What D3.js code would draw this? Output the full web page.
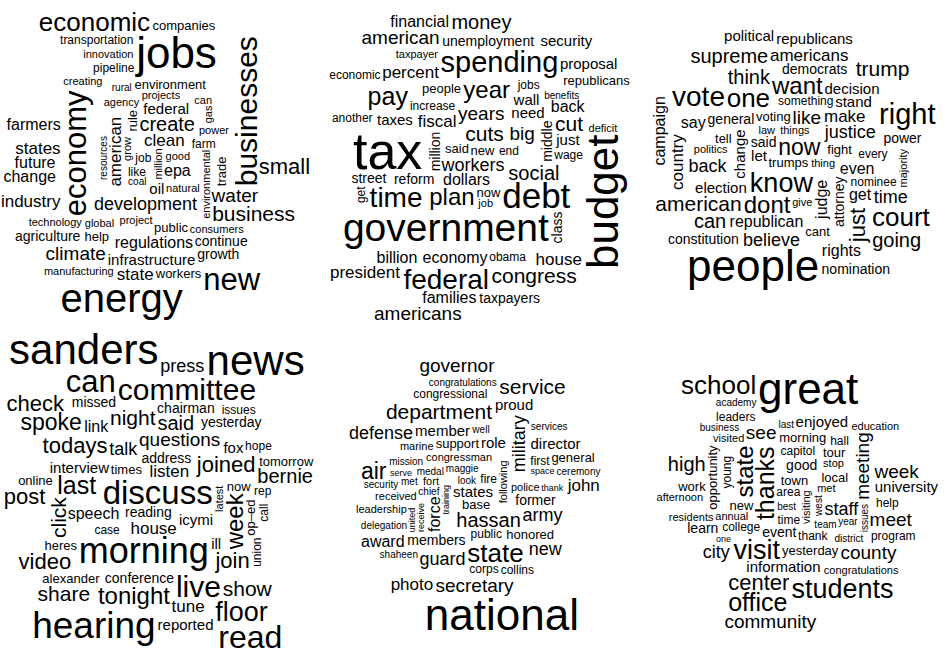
<!DOCTYPE html>
<html>
<head>
<meta charset="utf-8">
<script src="https://cdn.jsdelivr.net/npm/d3@7"></script>
<style>
  html, body { margin: 0; padding: 0; background: #ffffff; }
  svg { display: block; }
</style>
</head>
<body>
<svg id="chart" width="946" height="656"></svg>
<script>
// ---------- DATA (word, relative frequency) ----------
// Panel 1
const words1 = ["million","epa","job","clean","good","like","coal","oil","development","natural","create","grow","american","environmental","farm","federal","resources","project","public","power","rule","projects","economy","regulations","environment","water","businesses","trade","agency","jobs","gas","consumers","global","infrastructure","business","can","rural","continue","help","pipeline","state","growth","creating","workers","climate","technology","innovation","energy","farmers","states","industry","future","new","agriculture","change","manufacturing","small","companies","transportation","economic"];
const counts1 = [11,16,12,17,11,12,10,15,18,11,20,11,17,11,12,15,10,11,13,11,13,11,31,16,13,19,30,13,11,44,11,11,11,15,21,11,10,14,13,12,17,14,11,13,19,11,11,40,16,17,17,16,31,14,16,11,22,13,12,26];
const rotated1 = ["million","grow","american","environmental","resources","rule","economy","businesses","trade","gas"];

// Panel 2
const words2 = ["workers","dollars","new","said","cuts","plan","now","million","years","government","debt","social","end","big","fiscal","year","tax","spending","reform","increase","time","middle","need","people","wall","taxes","economy","wage","obama","just","jobs","federal","budget","percent","pay","congress","job","cut","street","class","back","unemployment","benefits","billion","taxpayer","money","house","another","families","taxpayers","get","american","republicans","economic","president","americans","proposal","deficit","security","financial"];
const counts2 = [18,16,13,13,21,24,13,14,19,39,35,20,12,19,17,24,52,29,14,12,28,14,15,13,15,15,16,12,12,15,12,28,44,17,25,21,11,21,14,14,16,14,10,16,11,20,17,12,16,14,12,19,13,12,17,19,15,11,15,16];
const rotated2 = ["million","middle","class","get","budget"];

// Panel 3
const words3 = ["trumps","know","now","said","thing","things","judge","dont","change","like","voting","republican","let","fight","give","justice","law","something","election","attorney","even","make","want","one","believe","general","tell","people","politics","american","back","cant","get","democrats","just","every","stand","think","decision","americans","can","rights","nominee","supreme","vote","say","republicans","constitution","country","court","time","nomination","power","right","trump","majority","going","political","campaign"];
const counts3 = [13,27,23,14,11,11,16,24,15,19,13,16,15,13,11,18,11,12,15,14,16,17,24,26,18,14,13,44,11,21,18,13,16,14,22,12,15,20,15,17,20,16,12,20,28,16,15,14,17,26,18,14,14,29,21,11,20,15,16];
const rotated3 = ["judge","change","attorney","just","country","majority","campaign"];

// Panel 4
const words4 = ["discuss","reading","listen","address","house","times","questions","morning","icymi","talk","speech","latest","joined","said","night","interview","conference","chairman","last","week","case","todays","now","ill","live","fox","committee","tonight","yesterday","op–ed","link","click","join","missed","rep","spoke","heres","alexander","call","tune","hope","bernie","press","union","can","hearing","issues","online","sanders","video","show","post","share","reported","news","floor","read","check","tomorrow"];
const counts4 = [33,14,17,14,17,13,19,36,15,18,16,11,22,20,21,15,14,14,25,24,12,22,13,15,30,15,30,24,14,13,16,21,22,14,12,23,13,13,12,17,12,20,18,12,31,37,12,13,42,22,21,22,21,15,42,27,32,22,13];
const rotated4 = ["latest","week","op–ed","click","call","union"];

// Panel 5
const words5 = ["states","base","look","maggie","training","fire","following","hassan","force","congressman","public","chief","support","state","fort","members","role","police","member","military","guard","former","department","medal","receive","army","honored","met","well","mission","received","united","marine","space","corps","first","secretary","leadership","congressional","serve","director","thank","new","collins","delegation","proud","shaheen","defense","security","award","congratulations","services","general","national","ceremony","air","photo","governor","john","service"];
const counts5 = [15,13,10,10,9,12,11,20,16,11,12,10,13,26,11,14,15,11,15,18,18,14,21,10,9,18,13,10,10,10,11,9,11,9,12,12,19,11,12,9,15,9,18,12,10,15,10,18,10,16,10,10,13,44,10,23,17,19,17,21];
const rotated5 = ["training","following","force","military","receive","united"];

// Panel 6
const words6 = ["area","thanks","town","best","good","visiting","time","west","met","event","capitol","thank","local","state","team","morning","new","staff","visit","yesterday","college","stop","see","young","meeting","information","tour","annual","enjoyed","opportunity","district","year","great","center","issues","visited","leaders","last","students","county","hall","one","congratulations","business","learn","work","city","high","meet","residents","academy","afternoon","office","help","university","education","community","week","program","school"];
const counts6 = [12,25,13,10,14,11,12,10,11,14,12,12,13,24,10,13,13,18,27,13,12,11,19,12,19,15,13,11,15,13,10,10,44,22,10,11,12,10,27,19,12,9,11,10,14,13,18,20,19,11,10,11,25,12,15,11,19,19,12,26];
const rotated6 = ["thanks","visiting","west","state","young","meeting","opportunity","issues"];

// ---------- LAYOUT (spiral word-cloud placement, like R's wordcloud) ----------
const W = 946, H = 656;
// fx / fy: orientation of each panel's spiral (the "seed" of the layout)
const panels = [
  { words: words1, counts: counts1, rotated: rotated1, fx: -1, fy: -1 },
  { words: words2, counts: counts2, rotated: rotated2, fx:  1, fy:  1 },
  { words: words3, counts: counts3, rotated: rotated3, fx: -1, fy: -1 },
  { words: words4, counts: counts4, rotated: rotated4, fx:  1, fy:  1 },
  { words: words5, counts: counts5, rotated: rotated5, fx:  1, fy: -1 },
  { words: words6, counts: counts6, rotated: rotated6, fx: -1, fy: -1 }
];

const fontSize = d3.scaleLinear().domain([0, 52]).range([0, 52]);

const svg = d3.select("#chart")
  .attr("font-family", "'Liberation Sans', Arial, Helvetica, sans-serif");

svg.append("rect").attr("width", W).attr("height", H).attr("fill", "#ffffff");

const cellW = W / 3, cellH = H / 2;
const REV = 7;        // radial growth (px) per spiral revolution
const ARC = 1.5;      // spiral arc step (px)
const PAD = 1.5;

function search(cx, cy, fx, fy, bw, bh, startTheta, bounds, boxes) {
  let theta = startTheta, r = 0;
  const rMax = Math.hypot(bounds[2] - bounds[0], bounds[3] - bounds[1]);
  while (r < rMax) {
    const x = cx + fx * r * Math.cos(theta);
    const y = cy - fy * r * Math.sin(theta);
    const b = [x - bw / 2, y - bh / 2, x + bw / 2, y + bh / 2];
    if (b[0] >= bounds[0] && b[2] <= bounds[2] && b[1] >= bounds[1] && b[3] <= bounds[3]) {
      let hit = false;
      for (let k = 0; k < boxes.length; k++) {
        const o = boxes[k];
        if (b[0] < o[2] && b[2] > o[0] && b[1] < o[3] && b[3] > o[1]) { hit = true; break; }
      }
      if (!hit) return [x, y, b];
    }
    const dt = Math.min(0.1, ARC / Math.max(r, 1));
    theta += dt;
    r += REV * dt / (2 * Math.PI);
  }
  return null;
}

panels.forEach((p, pi) => {
  const col = pi % 3, row = Math.floor(pi / 3);
  const cx = (col + 0.5) * cellW;
  const cy = (row + 0.5) * cellH;
  const half = Math.min(cellW, cellH) / 2;
  const square = [cx - half, cy - half, cx + half, cy + half];
  const cell = [col * cellW + 1, row * cellH + 1, (col + 1) * cellW - 1, (row + 1) * cellH - 1];
  const g = svg.append("g").attr("class", "panel");
  const boxes = [];

  p.words.forEach((w, i) => {
    const rot = p.rotated.includes(w);
    const start = i * 2.39996;
    let fs = fontSize(p.counts[i]);
    const t = g.append("text")
      .text(w)
      .attr("text-anchor", "middle")
      .attr("fill", "#000000");
    // box like R's wordcloud: a cap-height box, taller when the word has tails
    const asc = 0.75;
    const desc = /[gjpqy]/.test(w) ? 0.22 : 0.02;

    let res = null, base = 0;
    for (let shrink = 1; shrink > 0.55 && !res; shrink -= 0.05) {
      fs = fontSize(p.counts[i]) * shrink;
      t.attr("font-size", fs.toFixed(2));
      const tw = t.node().getComputedTextLength();
      const th = (asc + desc) * fs;
      const bw = (rot ? th : tw) + PAD, bh = (rot ? tw : th) + PAD;
      base = (asc - desc) / 2 * fs;
      res = search(cx, cy, p.fx, p.fy, bw, bh, start, square, boxes)
         || search(cx, cy, p.fx, p.fy, bw, bh, start, cell, boxes)
         || search(cx, cy, p.fx, p.fy, bw - PAD, bh - PAD, start, cell, boxes);
    }
    if (res) {
      const [x, y, b] = res;
      boxes.push(b);
      t.attr("transform", `translate(${x.toFixed(2)},${y.toFixed(2)})` + (rot ? " rotate(-90)" : ""))
       .attr("y", base.toFixed(2));
    } else {
      t.remove();
    }
  });
});
</script>
</body>
</html>
